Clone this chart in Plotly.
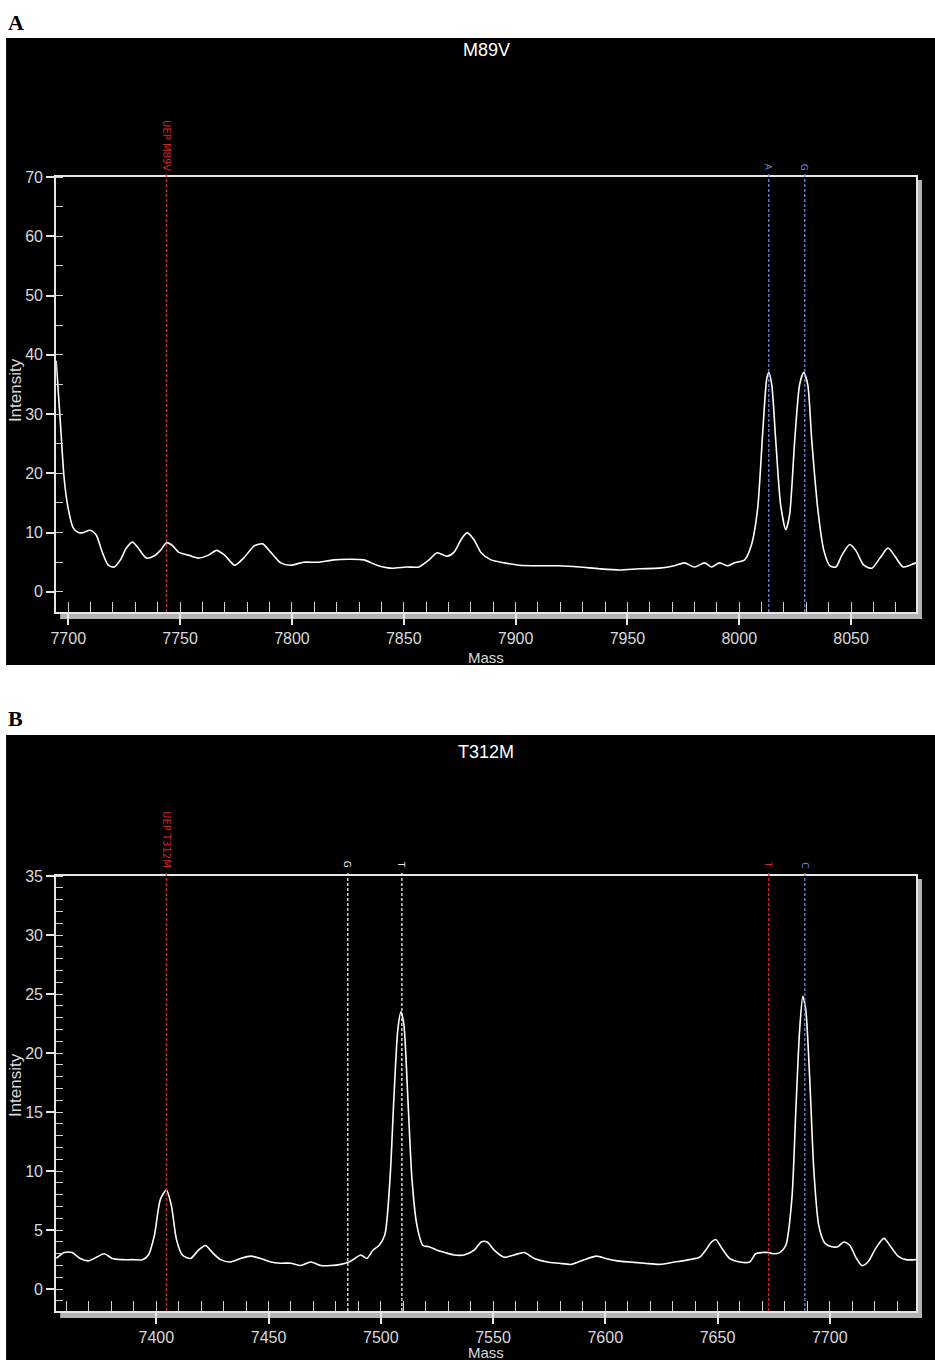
import plotly.graph_objects as go

# ---------------- data ----------------
mass_a = [7694.6, 7696.4, 7698.2, 7700.0, 7702.2, 7704.5, 7706.7, 7709.8, 7712.5, 7715.2,
          7717.9, 7720.6, 7723.3, 7726.0, 7728.7, 7731.3, 7734.9, 7738.1, 7741.2, 7743.9,
          7746.6, 7749.3, 7753.7, 7758.2, 7762.7, 7766.3, 7769.9, 7774.4, 7778.4, 7783.3,
          7786.9, 7790.5, 7795.0, 7799.4, 7805.3, 7812.0, 7818.7, 7825.4, 7832.1, 7838.0,
          7844.2, 7851.4, 7856.8, 7861.3, 7864.9, 7869.3, 7872.5, 7875.6, 7878.3, 7881.4,
          7884.6, 7889.0, 7894.9, 7901.6, 7910.5, 7919.5, 7928.5, 7937.4, 7946.4, 7955.4,
          7964.3, 7971.0, 7975.5, 7980.0, 7984.5, 7987.6, 7991.2, 7994.8, 7997.9, 8002.4,
          8005.5, 8008.2, 8010.5, 8012.3, 8013.2, 8014.5, 8016.3, 8018.5, 8020.8, 8022.5,
          8024.8, 8027.0, 8028.8, 8030.6, 8032.4, 8035.1, 8037.8, 8040.5, 8043.2, 8045.9,
          8049.4, 8052.1, 8055.7, 8059.3, 8062.9, 8066.5, 8069.6, 8073.2, 8076.3, 8079.0]
int_a = [39.0, 29.0, 19.0, 14.0, 10.8, 10.0, 10.0, 10.4, 9.6, 6.7,
         4.5, 4.2, 5.4, 7.4, 8.4, 7.4, 5.7, 6.0, 7.0, 8.3,
         7.8, 6.7, 6.2, 5.7, 6.2, 7.0, 6.2, 4.5, 5.7, 7.8,
         8.1, 6.7, 4.9, 4.5, 5.0, 5.0, 5.4, 5.5, 5.4, 4.5,
         4.0, 4.2, 4.2, 5.4, 6.6, 6.0, 6.7, 8.8, 10.0, 8.8,
         6.6, 5.4, 4.9, 4.5, 4.4, 4.4, 4.2, 3.9, 3.7, 3.9,
         4.0, 4.4, 4.9, 4.2, 4.9, 4.2, 4.9, 4.4, 4.9, 5.4,
         8.0, 14.0, 27.0, 36.0, 37.0, 35.0, 25.6, 14.7, 10.5, 13.0,
         25.6, 35.0, 37.0, 35.0, 25.6, 14.0, 7.0, 4.4, 4.2, 6.2,
         8.0, 7.0, 4.5, 4.0, 5.7, 7.4, 6.0, 4.2, 4.5, 4.9]

mass_b = [7355.4, 7359.0, 7362.5, 7366.1, 7369.7, 7373.3, 7376.8, 7380.4, 7384.9, 7389.3,
          7393.8, 7396.5, 7399.2, 7401.8, 7404.5, 7406.7, 7409.0, 7411.6, 7415.2, 7418.8,
          7421.9, 7425.0, 7428.6, 7433.1, 7437.5, 7442.0, 7446.5, 7451.0, 7455.4, 7459.9,
          7464.3, 7468.8, 7473.3, 7477.7, 7482.2, 7485.8, 7488.4, 7491.1, 7493.8, 7496.5,
          7499.2, 7501.8, 7504.1, 7505.8, 7507.6, 7509.0, 7510.3, 7512.1, 7513.9, 7516.1,
          7518.8, 7521.5, 7525.0, 7528.6, 7532.6, 7537.1, 7541.6, 7544.7, 7547.4, 7550.5,
          7555.0, 7559.4, 7563.9, 7568.4, 7574.2, 7579.5, 7584.9, 7590.7, 7596.1, 7600.1,
          7605.4, 7610.8, 7617.5, 7624.2, 7630.9, 7637.5, 7642.0, 7644.7, 7647.4, 7649.2,
          7651.8, 7655.4, 7659.9, 7664.3, 7667.0, 7669.7, 7672.4, 7675.1, 7677.7, 7680.4,
          7683.1, 7684.9, 7686.6, 7688.0, 7689.3, 7691.1, 7692.9, 7695.1, 7697.8, 7700.9,
          7703.6, 7706.3, 7709.0, 7711.6, 7714.3, 7717.0, 7720.6, 7724.1, 7726.8, 7730.4,
          7734.0, 7738.4]
int_b = [2.6, 3.1, 3.1, 2.6, 2.4, 2.7, 3.0, 2.6, 2.5, 2.5,
         2.5, 2.9, 4.6, 7.6, 8.4, 7.1, 4.2, 2.9, 2.6, 3.3,
         3.7, 3.1, 2.5, 2.3, 2.6, 2.8, 2.6, 2.3, 2.2, 2.2,
         2.0, 2.3, 2.0, 2.0, 2.1, 2.3, 2.6, 2.9, 2.6, 3.3,
         3.7, 4.6, 9.3, 16.0, 22.0, 23.5, 22.4, 16.0, 9.3, 5.4,
         3.7, 3.6, 3.3, 3.1, 2.9, 2.9, 3.3, 4.0, 4.0, 3.3,
         2.7, 2.9, 3.1, 2.6, 2.3, 2.2, 2.1, 2.5, 2.8, 2.6,
         2.4, 2.3, 2.2, 2.1, 2.3, 2.5, 2.7, 3.3, 4.0, 4.2,
         3.5, 2.6, 2.3, 2.3, 3.0, 3.1, 3.1, 3.0, 3.1, 3.7,
         7.6, 15.2, 22.0, 24.8, 23.7, 17.7, 10.1, 5.4, 3.9, 3.6,
         3.6, 4.0, 3.7, 2.7, 2.0, 2.3, 3.5, 4.3, 3.7, 2.8,
         2.5, 2.5]

# marker lines: (mass, label, colour)
markers_a = [(7743.9, "UEP M89V", "#d0282a"), (8013.2, "A", "#6a8ae0"), (8029.3, "G", "#6a8ae0")]
markers_b = [(7404.5, "UEP T312M", "#d0282a"), (7485.3, "G", "#eeeeee"), (7509.4, "T", "#eeeeee"),
             (7672.8, "T", "#d0282a"), (7688.9, "C", "#6a8ae0")]

titles = ["M89V", "T312M"]
panel_letters = ["A", "B"]

# ---------------- layout geometry ----------------
W, H = 935, 1360
# the page photo is slightly offset/scaled: map reference pixels to figure pixels
KX, KY, OFF = 943 / 935, 1368 / 1360, 8
def px(p):
    return (p * KX - OFF) / W
def py(p):
    return 1 - (p * KY - OFF) / H

FONT = "Liberation Sans, Arial, sans-serif"
TXT = "#d9d9d9"

fig = go.Figure()
fig.add_trace(go.Scatter(x=mass_a, y=int_a, mode="lines", xaxis="x", yaxis="y",
                         line=dict(color="white", width=1.6, shape="spline", smoothing=0.7),
                         showlegend=False, hoverinfo="skip"))
fig.add_trace(go.Scatter(x=mass_b, y=int_b, mode="lines", xaxis="x2", yaxis="y2",
                         line=dict(color="white", width=1.6, shape="spline", smoothing=0.7),
                         showlegend=False, hoverinfo="skip"))

xdom = [px(58), px(916)]
ydom_a = [py(612), py(177)]
ydom_b = [py(1311), py(876)]

def xaxis(rng, anchor):
    return dict(domain=xdom, range=rng, anchor=anchor, showgrid=False, zeroline=False,
                showline=True, mirror=True, linecolor="#e6e6e6", linewidth=2,
                tickmode="linear", tick0=7000, dtick=50, ticks="outside", ticklen=11,
                tickcolor="#e6e6e6", tickwidth=1.5,
                tickfont=dict(family=FONT, size=16, color=TXT),
                minor=dict(tickmode="linear", tick0=7000, dtick=10, ticks="inside", ticklen=10,
                           tickcolor="#d0d0d0", tickwidth=1))

def yaxis(rng, dom, anchor, dt, mdt):
    return dict(domain=dom, range=rng, anchor=anchor, showgrid=False, zeroline=False,
                showline=True, mirror=True, linecolor="#e6e6e6", linewidth=2,
                tickmode="linear", tick0=0, dtick=dt, ticks="outside", ticklen=8,
                tickcolor="#e6e6e6", tickwidth=1.5,
                tickfont=dict(family=FONT, size=16, color=TXT),
                minor=dict(tickmode="linear", tick0=0, dtick=mdt, ticks="inside", ticklen=7,
                           tickcolor="#d0d0d0", tickwidth=1))

fig.update_layout(
    width=W, height=H, margin=dict(l=0, r=0, t=0, b=0),
    paper_bgcolor="white", plot_bgcolor="black",
    xaxis=xaxis([7694.6, 8079.0], "y"),
    yaxis=yaxis([-3.4, 70], ydom_a, "x", 10, 5),
    xaxis2=xaxis([7355.4, 7738.4], "y2"),
    yaxis2=yaxis([-1.85, 35], ydom_b, "x2", 5, 1),
)

shapes = []
anns = []
# black panels
for (t, b) in [(38, 665), (735, 1360)]:
    shapes.append(dict(type="rect", xref="paper", yref="paper", x0=px(8), x1=1,
                       y0=min(0.0, py(b)) if b >= 1360 else py(b),
                       y1=py(t), fillcolor="black", line=dict(width=0), layer="below"))
# gray 3D shadow bars
for (top, bot) in [(177, 612), (876, 1311)]:
    shapes.append(dict(type="rect", xref="paper", yref="paper", x0=px(62), x1=px(922),
                       y0=py(bot + 7), y1=py(bot + 1), fillcolor="#b4b4b4", line=dict(width=0), layer="below"))
    shapes.append(dict(type="rect", xref="paper", yref="paper", x0=px(917), x1=px(922),
                       y0=py(bot + 7), y1=py(top + 3), fillcolor="#b4b4b4", line=dict(width=0), layer="below"))

# marker lines and labels
def add_markers(markers, xref, ydom, label_bottom):
    for m, lab, col in markers:
        shapes.append(dict(type="line", xref=xref, yref="paper", x0=m, x1=m,
                           y0=ydom[0], y1=py(label_bottom + 1),
                           line=dict(color=col, width=1.3, dash="3px,2px")))
        anns.append(dict(text=lab, xref=xref, yref="paper", x=m, xanchor="center",
                         y=py(label_bottom), yanchor="bottom",
                         showarrow=False, textangle=90,
                         font=dict(family="DejaVu Sans", size=10 if len(lab) > 1 else 9, color=col)))

add_markers(markers_a, "x", ydom_a, 173)
add_markers(markers_b, "x2", ydom_b, 870)

for i, (ytitle, ymass, yint) in enumerate([(50, 657, 390), (752, 1352, 1085)]):
    anns.append(dict(text=titles[i], xref="paper", yref="paper", x=px(487), y=py(ytitle),
                     xanchor="center", yanchor="middle",
                     showarrow=False, font=dict(family=FONT, size=18, color="white")))
    anns.append(dict(text="Mass", xref="paper", yref="paper", x=px(487), y=py(ymass),
                     xanchor="center", yanchor="middle",
                     showarrow=False, font=dict(family=FONT, size=15, color=TXT)))
    anns.append(dict(text="Intensity", xref="paper", yref="paper", x=px(17), y=py(yint),
                     xanchor="center", yanchor="middle",
                     showarrow=False, textangle=-90, font=dict(family=FONT, size=17, color=TXT)))

for letter, yy in zip(panel_letters, [22, 718]):
    anns.append(dict(text="<b>" + letter + "</b>", xref="paper", yref="paper", x=px(8), y=py(yy),
                     xanchor="left", yanchor="middle", showarrow=False,
                     font=dict(family="Liberation Serif, Times New Roman, serif", size=22, color="black")))

fig.update_layout(shapes=shapes, annotations=anns)
fig.write_html("out.html")
